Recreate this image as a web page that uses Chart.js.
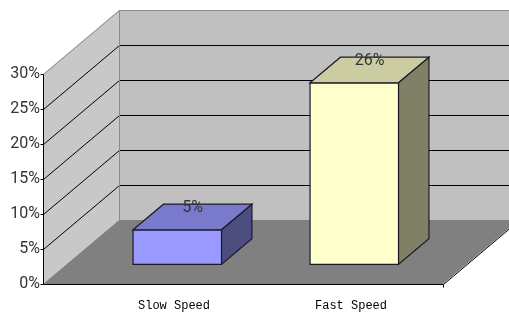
<!DOCTYPE html>
<html>
<head>
<meta charset="utf-8">
<script src="https://cdn.jsdelivr.net/npm/chart.js@4"></script>
<style>
  html, body { margin: 0; padding: 0; background: #fff; }
  canvas { display: block; }
</style>
</head>
<body>
<canvas id="speedChart" width="509" height="316"></canvas>
<script>
// Data
const categories = ['Slow Speed', 'Fast Speed'];
const shares = [5, 26];
const barFronts = ['#9999ff', '#ffffcc'];
const barTops = ['#7a7acc', '#cccca3'];
const barSides = ['#4d4d80', '#808066'];

// 3D depth of the floor (pixels) and where the bars sit in it
const DX = 76, DY = -64;
const FRONT = 0.3, DEPTH = 0.4;
const tickFont = { family: "Roboto, 'Liberation Sans', sans-serif", size: 16 };

// Walls, floor and gridlines behind the bars
const wallsPlugin = {
    id: 'walls',
    beforeDatasetsDraw(chart) {
        const { ctx, chartArea: a, scales: { y } } = chart;
        const y0 = y.getPixelForValue(0);
        const yT = y.getPixelForValue(30);
        const L = a.left - 23, R = a.right + 23;
        const W = chart.width + 20;

        function poly(pts, fill) {
            ctx.beginPath();
            ctx.moveTo(pts[0][0], pts[0][1]);
            pts.slice(1).forEach(p => ctx.lineTo(p[0], p[1]));
            ctx.closePath();
            ctx.fillStyle = fill;
            ctx.fill();
        }
        function line(pts, color) {
            ctx.beginPath();
            ctx.moveTo(pts[0][0] + 0.5, pts[0][1] + 0.5);
            pts.slice(1).forEach(p => ctx.lineTo(p[0] + 0.5, p[1] + 0.5));
            ctx.strokeStyle = color;
            ctx.lineWidth = 1;
            ctx.stroke();
        }

        ctx.save();
        // left wall, back wall, floor
        poly([[L, yT], [L + DX, yT + DY], [L + DX, y0 + DY], [L, y0]], '#c8c8c8');
        poly([[L + DX, yT + DY], [W, yT + DY], [W, y0 + DY], [L + DX, y0 + DY]], '#c0c0c0');
        poly([[L, y0], [L + DX, y0 + DY], [R + DX, y0 + DY], [R, y0]], '#808080');

        // gridlines
        y.ticks.forEach(t => {
            if (t.value <= 0 || t.value >= 30) return;
            const yy = Math.round(y.getPixelForValue(t.value));
            line([[L, yy], [L + DX, yy + DY], [W, yy + DY]], '#000');
        });

        // wall edges
        line([[L, yT], [L + DX, yT + DY], [W, yT + DY]], '#8c8c8c');
        line([[L + DX, yT + DY], [L + DX, y0 + DY]], '#8c8c8c');

        // value axis and its ticks
        line([[L, yT], [L, y0]], '#000');
        y.ticks.forEach(t => {
            const yy = Math.round(y.getPixelForValue(t.value));
            line([[L - 3, yy], [L, yy]], '#000');
        });

        // floor front and right edges
        line([[L, y0], [R, y0], [R + DX, y0 + DY]], '#000');
        line([[R, y0], [R, y0 + 3]], '#000');
        ctx.restore();
    }
};

// 3D boxes and value labels
const boxesPlugin = {
    id: 'boxes',
    afterDatasetsDraw(chart) {
        const { ctx } = chart;
        const meta = chart.getDatasetMeta(0);
        const fx = FRONT * DX, fy = FRONT * DY;
        const bx = DEPTH * DX, by = DEPTH * DY;

        function face(pts, fill) {
            ctx.beginPath();
            ctx.moveTo(pts[0][0], pts[0][1]);
            pts.slice(1).forEach(p => ctx.lineTo(p[0], p[1]));
            ctx.closePath();
            ctx.fillStyle = fill;
            ctx.fill();
            ctx.strokeStyle = '#1a1a2a';
            ctx.lineWidth = 1.2;
            ctx.stroke();
        }

        ctx.save();
        meta.data.forEach((el, i) => {
            const { x, y, base, width } = el.getProps(['x', 'y', 'base', 'width'], true);
            const x1 = x - width / 2 + fx, x2 = x + width / 2 + fx;
            const top = y + fy, bot = base + fy;
            face([[x1, top], [x2, top], [x2, bot], [x1, bot]], barFronts[i]);
            face([[x1, top], [x1 + bx, top + by], [x2 + bx, top + by], [x2, top]], barTops[i]);
            face([[x2, top], [x2 + bx, top + by], [x2 + bx, bot + by], [x2, bot]], barSides[i]);

            ctx.fillStyle = '#333';
            ctx.font = tickFont.size + 'px ' + tickFont.family;
            ctx.textAlign = 'center';
            ctx.textBaseline = 'middle';
            ctx.fillText(shares[i] + '%', x + fx + bx / 2, top + by + 3.5);
        });
        ctx.restore();
    }
};

const chart = new Chart(document.getElementById('speedChart').getContext('2d'), {
    type: 'bar',
    data: {
        labels: categories,
        datasets: [{
            label: 'Share',
            data: shares,
            backgroundColor: 'rgba(0,0,0,0)',
            borderWidth: 0,
            categoryPercentage: 1,
            barPercentage: 0.5
        }]
    },
    options: {
        responsive: false,
        animation: false,
        layout: {
            padding: { left: 0, right: 89, top: 74, bottom: 0 }
        },
        plugins: {
            legend: { display: false },
            tooltip: { enabled: false }
        },
        scales: {
            x: {
                grid: { display: false, drawTicks: false },
                border: { display: false },
                ticks: {
                    color: '#000',
                    font: { family: "'Liberation Mono', 'DejaVu Sans Mono', monospace", size: 12 },
                    labelOffset: 19.5,
                    padding: 15
                },
                afterFit: scale => { scale.height = 32; }
            },
            y: {
                min: 0,
                max: 30,
                // invisible tick marks push the labels out to the front edge of the left wall
                grid: { display: true, drawOnChartArea: false, drawTicks: true, tickLength: 24, tickColor: 'rgba(0,0,0,0)' },
                border: { display: false },
                ticks: {
                    stepSize: 5,
                    color: '#333',
                    font: tickFont,
                    padding: 2,
                    callback: value => value + '%'
                },
                afterFit: scale => { scale.width = 66; }
            }
        }
    },
    plugins: [wallsPlugin, boxesPlugin]
});
</script>
</body>
</html>
